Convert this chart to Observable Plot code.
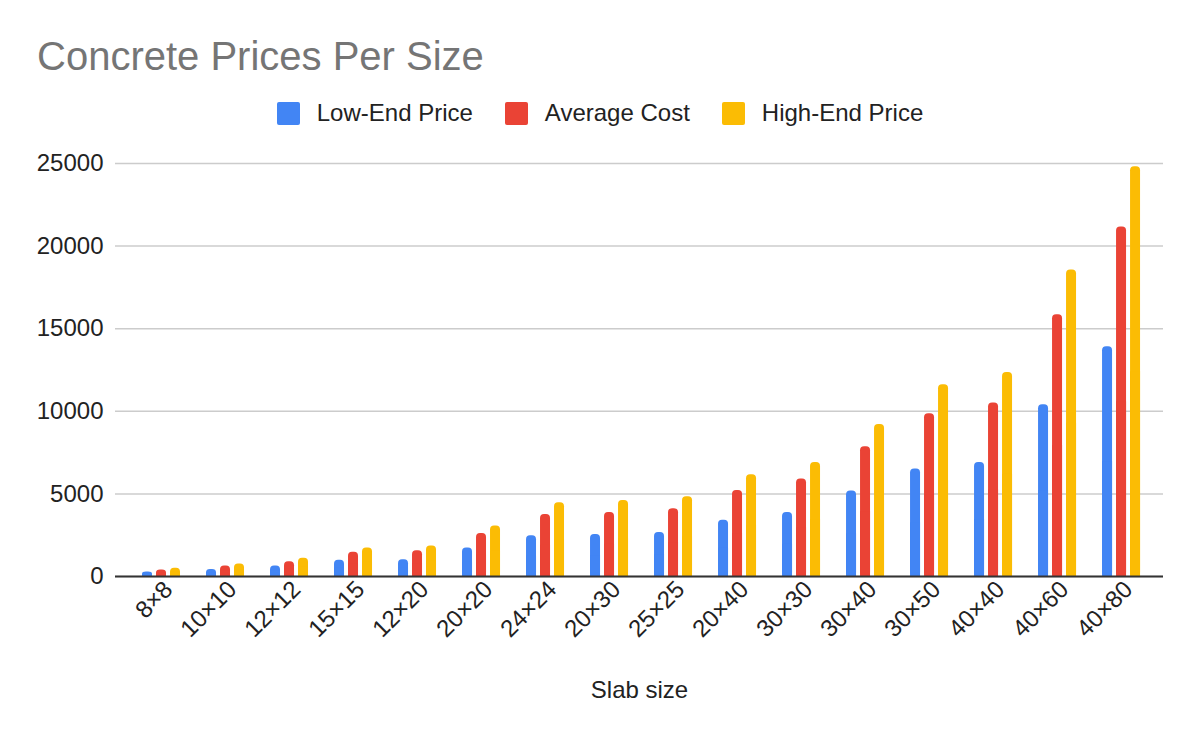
<!DOCTYPE html>
<html>
<head>
<meta charset="utf-8">
<script src="https://cdn.jsdelivr.net/npm/d3@7"></script>
<script src="https://cdn.jsdelivr.net/npm/@observablehq/plot@0.6"></script>
<style>
  body { margin: 0; background: #fff; font-family: "Liberation Sans", Arial, sans-serif; }
  #wrap { position: relative; width: 1200px; height: 742px; }
  #title { position: absolute; left: 37px; top: 36px; font-size: 40px; line-height: 40px; color: #757575; white-space: nowrap; }
  #legend { position: absolute; left: 0; width: 1200px; top: 100px; height: 26px; display: flex; justify-content: center; align-items: center; font-size: 24px; color: #222; }
  #legend .item { display: flex; align-items: center; margin: 0 16px; }
  #legend .sw { width: 23px; height: 23px; border-radius: 2px; margin-right: 17px; }
  #chart { position: absolute; left: 0; top: 140px; }
</style>
</head>
<body>
<div id="wrap">
  <div id="title">Concrete Prices Per Size</div>
  <div id="legend"></div>
  <div id="chart"></div>
</div>
<script>
const categories = ["8×8","10×10","12×12","15×15","12×20","20×20","24×24","20×30","25×25","20×40","30×30","30×40","30×50","40×40","40×60","40×80"];
const seriesNames = ["Low-End Price","Average Cost","High-End Price"];
const seriesColors = ["#4285F4","#EA4335","#FBBC04"];
const lowEnd  = [270, 420, 630, 980, 1020, 1720, 2460, 2540, 2660, 3400, 3880, 5180, 6500, 6900, 10400, 13900];
const average = [400, 640, 900, 1470, 1560, 2600, 3760, 3880, 4100, 5200, 5900, 7850, 9850, 10500, 15850, 21150];
const highEnd = [500, 760, 1100, 1720, 1840, 3060, 4460, 4600, 4820, 6160, 6900, 9200, 11600, 12350, 18550, 24800];
const yTicks = [0, 5000, 10000, 15000, 20000, 25000];
const xLabel = "Slab size";

const seriesValues = [lowEnd, average, highEnd];
const rows = seriesValues.map(vals => categories.map((c, i) => ({cat: c, value: vals[i]})));

// legend
const legend = document.getElementById("legend");
seriesNames.forEach((n, i) => {
  const it = document.createElement("div");
  it.className = "item";
  const sw = document.createElement("div");
  sw.className = "sw";
  sw.style.background = seriesColors[i];
  const tx = document.createElement("span");
  tx.textContent = n;
  it.appendChild(sw); it.appendChild(tx);
  legend.appendChild(it);
});

const offsets = [-14, 0, 14];
const barMarks = [];
rows.forEach((data, s) => {
  barMarks.push(Plot.barY(data, {x: "cat", y: "value", fill: seriesColors[s], rx: 4, dx: offsets[s]}));
  barMarks.push(Plot.barY(data, {x: "cat", y: d => d.value / 2, fill: seriesColors[s], dx: offsets[s]}));
});

const chart = Plot.plot({
  width: 1200,
  height: 602,
  marginTop: 23,
  marginBottom: 166,
  marginLeft: 115,
  marginRight: 37,
  style: {fontFamily: '"Liberation Sans", Arial, sans-serif', fontSize: "24px", color: "#222", background: "#fff"},
  x: {domain: categories, paddingInner: 0.84375, paddingOuter: 0.609, align: 0.526, round: false},
  y: {domain: [0, 25000]},
  marks: [
    Plot.gridY(yTicks, {stroke: "#cccccc", strokeOpacity: 1, strokeWidth: 1.5}),
    Plot.axisY(yTicks, {tickSize: 0, tickPadding: 12, tickFormat: d => String(d), fontSize: 24, label: null, fill: "#222"}),
    Plot.axisX({tickSize: 0, tickRotate: -45, tickPadding: 10, fontSize: 24, fill: "#222", dx: 7, dy: -1, label: null}),
    Plot.axisX({tickSize: 0, ticks: [], fontSize: 24, fill: "#222", label: xLabel, labelAnchor: "center", labelOffset: 121}),
    ...barMarks,
    Plot.ruleY([0], {stroke: "#333333", strokeWidth: 2})
  ]
});
document.getElementById("chart").appendChild(chart);
</script>
</body>
</html>
